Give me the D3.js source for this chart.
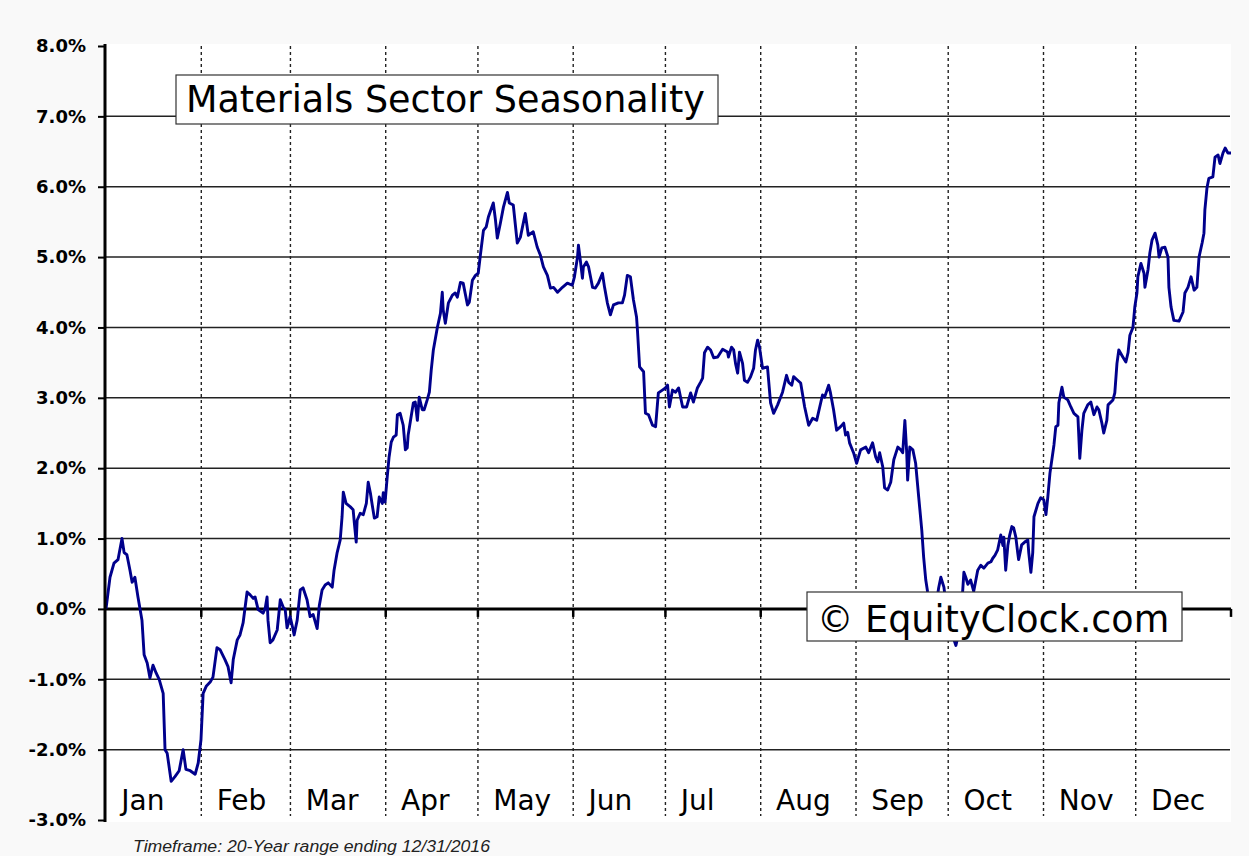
<!DOCTYPE html>
<html>
<head>
<meta charset="utf-8">
<script src="https://cdn.jsdelivr.net/npm/d3@7"></script>
<style>
    body { margin: 0; background: #f9f9f9; }
    #chartDiv { width: 1249px; height: 856px; }
</style>
</head>
<body>
<div id="chartDiv"></div>
<script>
"use strict";

// chart data: day of a (leap) year, cumulative seasonal return in percent
var seasonal = [
    [0,0.00],[1.3,0.45],[2.6,0.65],[3.9,0.70],[5.2,1.00],[5.9,0.80],[6.8,0.77],[7.8,0.55],[8.5,0.38],[9.4,0.45],
    [10.4,0.17],[11.7,-0.16],[12.4,-0.65],[13.4,-0.77],[14.3,-0.98],[15.3,-0.80],[16.3,-0.91],[17.3,-1.00],[18.6,-1.20],
    [19.2,-2.00],[19.9,-2.05],[21.2,-2.45],[22.5,-2.38],[23.8,-2.30],[25.1,-2.00],[26.0,-2.28],[27.4,-2.30],[29.0,-2.35],
    [30.0,-2.19],[30.9,-1.86],[31.6,-1.20],[32.6,-1.10],[33.9,-1.04],[34.8,-0.97],[36.1,-0.55],[37.1,-0.58],[38.7,-0.72],
    [39.7,-0.82],[40.7,-1.05],[41.4,-0.72],[42.7,-0.44],[43.6,-0.37],[44.6,-0.20],[45.9,0.24],[46.9,0.20],[47.9,0.15],
    [48.5,0.17],[49.5,-0.01],[51.1,-0.06],[51.8,0.01],[52.4,0.17],[52.7,-0.16],[53.4,-0.48],[54.3,-0.44],[55.7,-0.30],
    [56.7,0.13],[57.6,0.03],[58.3,-0.01],[58.9,-0.27],[59.9,-0.11],[60.9,-0.30],[61.2,-0.37],[62.2,-0.16],[63.2,0.27],
    [64.1,0.30],[65.4,0.13],[66.4,-0.11],[67.4,-0.08],[68.7,-0.28],[69.4,0.05],[70.3,0.27],[71.3,0.34],[72.3,0.37],
    [73.6,0.31],[74.2,0.55],[75.2,0.80],[76.2,0.98],[76.8,1.31],[77.2,1.66],[78.1,1.50],[79.5,1.45],[80.4,1.41],
    [80.8,1.22],[81.4,0.95],[81.7,1.26],[82.7,1.36],[83.7,1.34],[84.7,1.50],[85.3,1.80],[86.0,1.65],[86.6,1.48],
    [87.3,1.29],[88.2,1.31],[88.9,1.59],[89.9,1.50],[90.2,1.65],[90.8,1.52],[91.5,1.88],[92.1,2.16],[92.8,2.37],
    [93.5,2.44],[94.4,2.47],[94.8,2.76],[95.7,2.78],[96.7,2.61],[97.4,2.26],[98.0,2.29],[98.3,2.47],[99.0,2.66],
    [100.0,2.93],[100.6,2.94],[101.3,2.68],[101.9,3.01],[102.9,2.83],[103.5,2.83],[104.5,2.97],[105.2,3.08],[105.8,3.39],
    [106.5,3.68],[107.8,4.00],[108.8,4.20],[109.4,4.50],[109.7,4.25],[110.4,4.06],[111.4,4.35],[112.7,4.46],[113.6,4.49],
    [114.3,4.43],[115.3,4.64],[116.2,4.63],[117.6,4.32],[118.2,4.36],[119.2,4.67],[120.2,4.74],[121.1,4.77],[121.8,5.03],
    [122.8,5.38],[123.7,5.43],[124.4,5.57],[126.0,5.77],[126.7,5.53],[127.3,5.27],[128.3,5.48],[129.3,5.71],[130.6,5.92],
    [131.2,5.77],[132.5,5.74],[133.8,5.20],[134.8,5.28],[136.4,5.62],[137.4,5.31],[139.0,5.36],[140.3,5.14],[141.3,5.03],
    [142.3,4.86],[143.6,4.74],[144.6,4.56],[145.6,4.57],[146.9,4.50],[148.5,4.57],[150.1,4.63],[151.7,4.60],[152.4,4.72],
    [153.4,5.00],[153.7,5.17],[154.3,4.96],[155.0,4.70],[155.3,4.86],[156.3,4.93],[157.0,4.86],[158.3,4.57],[159.2,4.56],
    [160.2,4.63],[161.5,4.77],[162.2,4.57],[163.1,4.35],[164.1,4.18],[165.1,4.32],[166.7,4.35],[168.0,4.35],[168.7,4.46],
    [169.6,4.74],[170.6,4.72],[171.6,4.39],[172.6,4.15],[172.9,3.96],[173.6,3.44],[174.9,3.37],[175.5,2.78],[176.5,2.76],
    [177.8,2.61],[178.8,2.59],[179.7,3.07],[181.0,3.11],[182.0,3.14],[182.7,3.18],[183.3,2.87],[184.3,3.11],[185.3,3.08],
    [186.3,3.14],[187.6,2.87],[188.9,2.87],[190.2,3.07],[191.1,2.94],[192.4,3.14],[193.4,3.22],[194.1,3.28],[194.7,3.64],
    [195.7,3.72],[196.7,3.68],[197.7,3.57],[199.0,3.58],[200.6,3.69],[202.2,3.65],[202.5,3.58],[203.5,3.72],[204.2,3.68],
    [204.8,3.49],[205.5,3.35],[206.1,3.65],[207.1,3.49],[207.7,3.25],[208.7,3.22],[209.7,3.30],[210.7,3.42],[211.3,3.68],
    [212.0,3.82],[212.6,3.72],[213.6,3.42],[215.2,3.44],[216.2,2.93],[217.2,2.78],[218.5,2.90],[220.1,3.08],[221.4,3.32],
    [222.1,3.22],[223.1,3.18],[223.7,3.30],[225.0,3.25],[226.0,3.21],[227.3,2.87],[228.6,2.61],[229.9,2.71],[231.2,2.68],
    [232.2,2.87],[233.1,3.04],[233.8,3.01],[235.1,3.18],[235.7,3.07],[236.7,2.83],[237.7,2.54],[239.0,2.59],[240.0,2.64],
    [240.6,2.47],[241.3,2.51],[241.9,2.36],[243.2,2.22],[244.2,2.07],[245.5,2.26],[247.2,2.30],[248.1,2.22],[249.4,2.36],
    [250.4,2.16],[251.1,2.09],[251.7,2.22],[252.7,2.02],[253.3,1.72],[254.3,1.69],[255.3,1.80],[256.3,2.12],[257.6,2.30],
    [258.6,2.26],[259.2,2.22],[259.9,2.68],[260.5,2.22],[260.8,1.83],[261.5,2.30],[262.5,2.26],[263.4,2.07],[264.4,1.59],
    [265.4,1.12],[266.0,0.74],[266.7,0.41],[267.3,0.24],[268.0,0.10],[270.0,0.05],[270.9,0.30],[271.6,0.45],[272.6,0.31],
    [273.2,0.10],[274.2,-0.15],[275.2,-0.35],[276.5,-0.52],[277.4,-0.35],[278.4,0.05],[279.1,0.52],[279.7,0.45],[280.4,0.35],
    [281.3,0.41],[282.3,0.25],[283.6,0.55],[284.6,0.62],[285.6,0.58],[286.9,0.65],[287.9,0.67],[288.5,0.72],[289.2,0.76],
    [290.1,0.84],[291.1,1.05],[291.8,0.90],[292.1,1.02],[292.7,0.55],[293.4,0.90],[294.0,1.05],[294.7,1.17],[295.3,1.15],
    [296.0,1.02],[296.6,0.80],[296.9,0.70],[297.9,0.91],[298.9,0.95],[299.9,0.98],[300.2,0.80],[300.9,0.52],[301.5,0.80],
    [301.9,1.31],[303.2,1.50],[304.1,1.58],[305.1,1.55],[305.8,1.34],[306.4,1.59],[307.1,1.93],[308.4,2.33],[309.0,2.59],
    [309.7,2.61],[310.0,2.93],[311.0,3.15],[311.6,3.01],[312.9,2.97],[313.9,2.87],[314.9,2.78],[316.2,2.73],[316.5,2.44],
    [316.8,2.14],[317.5,2.54],[318.1,2.78],[319.4,2.90],[320.4,2.94],[321.4,2.76],[322.4,2.87],[323.0,2.83],[324.0,2.64],
    [324.6,2.50],[325.6,2.68],[326.0,2.90],[327.6,2.97],[328.2,3.07],[328.9,3.49],[329.5,3.68],[330.8,3.58],[331.8,3.51],
    [332.5,3.64],[333.1,3.89],[334.1,4.00],[334.7,4.29],[335.4,4.49],[335.7,4.72],[336.7,4.91],[337.7,4.77],[338.0,4.57],
    [339.0,4.82],[339.6,5.06],[340.3,5.24],[341.3,5.34],[342.2,5.17],[342.6,5.00],[343.5,5.13],[344.5,5.14],[345.5,5.00],
    [345.8,4.57],[346.5,4.29],[347.4,4.10],[349.1,4.09],[350.4,4.22],[351.0,4.49],[352.0,4.57],[353.0,4.72],[354.0,4.53],
    [354.9,4.57],[355.6,5.00],[356.6,5.20],[357.2,5.34],[357.5,5.67],[358.2,5.99],[358.8,6.12],[360.1,6.14],[360.8,6.42],
    [361.8,6.45],[362.4,6.33],[363.4,6.48],[364.1,6.55],[365.0,6.48],[366.0,6.48]
];

// month labels and the day each month starts on
var months = ["Jan", "Feb", "Mar", "Apr", "May", "Jun", "Jul", "Aug", "Sep", "Oct", "Nov", "Dec"];
var monthStarts = [0, 31, 60, 91, 121, 152, 182, 213, 244, 274, 305, 335];

// y axis ticks in percent
var yTicks = [-3, -2, -1, 0, 1, 2, 3, 4, 5, 6, 7, 8];

var chartTitle = "Materials Sector Seasonality";
var watermark = "\u00A9 EquityClock.com";
var footnote = "Timeframe: 20-Year range ending 12/31/2016";

// svg element parameters
var svgWidth = 1249;
var svgHeight = 856;
var plotLeft = 106, plotRight = 1231, plotTop = 46, plotBottom = 820;

var svg, x, y, line;

svg = d3.select("#chartDiv").append("svg").attr("width", svgWidth).attr("height", svgHeight);

// scales
x = d3.scaleLinear().domain([0, 366]).range([plotLeft, plotRight]);
y = d3.scaleLinear().domain([-3, 8]).range([plotBottom, plotTop]);

// white plot area
svg.append("rect")
    .attr("x", plotLeft).attr("y", plotTop - 2)
    .attr("width", plotRight - plotLeft).attr("height", plotBottom - plotTop + 4)
    .attr("fill", "#ffffff");

// horizontal gridlines
svg.append("g").attr("class", "grid")
    .selectAll("line")
    .data(yTicks.filter(function (d) { return d !== 0 && d !== 8 && d !== -3; }))
    .enter()
    .append("line")
    .attr("x1", plotLeft).attr("x2", plotRight - 1)
    .attr("y1", function (d) { return y(d); })
    .attr("y2", function (d) { return y(d); })
    .attr("stroke", "#222")
    .attr("stroke-width", 1.5);

// month dividers, dashed
svg.append("g").attr("class", "months")
    .selectAll("line")
    .data(monthStarts.slice(1))
    .enter()
    .append("line")
    .attr("x1", function (d) { return x(d); })
    .attr("x2", function (d) { return x(d); })
    .attr("y1", plotTop).attr("y2", plotBottom - 4)
    .attr("stroke", "#222")
    .attr("stroke-width", 1.4)
    .attr("stroke-dasharray", "3,3");

// zero line with small month ticks
svg.append("line")
    .attr("x1", plotLeft).attr("x2", plotRight)
    .attr("y1", y(0)).attr("y2", y(0))
    .attr("stroke", "#000").attr("stroke-width", 3);

svg.append("g")
    .selectAll("line")
    .data(monthStarts.slice(1).concat([366]))
    .enter()
    .append("line")
    .attr("x1", function (d) { return x(d); })
    .attr("x2", function (d) { return x(d); })
    .attr("y1", y(0)).attr("y2", y(0) + 8)
    .attr("stroke", "#000").attr("stroke-width", 2.5);

// seasonal line
line = d3.line()
    .x(function (d) { return x(d[0]); })
    .y(function (d) { return y(d[1]); });

svg.append("path")
    .datum(seasonal)
    .attr("d", line)
    .attr("fill", "none")
    .attr("stroke", "#00008c")
    .attr("stroke-width", 2.9)
    .attr("stroke-linejoin", "round");

// left axis, plain hyphen for negatives like the original
var yAxis = d3.axisLeft(y)
    .tickValues(yTicks)
    .tickSize(7)
    .tickSizeOuter(0)
    .tickPadding(12)
    .tickFormat(function (d) { return d.toFixed(1) + "%"; });

var axisG = svg.append("g")
    .attr("transform", "translate(" + (plotLeft - 1) + ",0)")
    .call(yAxis);

axisG.select(".domain").attr("stroke", "#000").attr("stroke-width", 3)
    .attr("d", "M0," + (plotTop - 2) + "V" + (plotBottom + 2));
axisG.selectAll(".tick line").attr("stroke", "#000").attr("stroke-width", 2);
axisG.selectAll(".tick text")
    .attr("fill", "#000")
    .style("font-family", "'DejaVu Sans', sans-serif")
    .style("font-weight", "bold")
    .style("font-size", "18px");

// month labels
svg.append("g")
    .selectAll("text")
    .data(months)
    .enter()
    .append("text")
    .attr("x", function (d, i) { return x(monthStarts[i] + 5); })
    .attr("y", 810)
    .attr("font-family", "'DejaVu Sans', sans-serif")
    .attr("font-size", "28px")
    .attr("fill", "#000")
    .text(function (d) { return d; });

// title box
svg.append("rect")
    .attr("x", 176).attr("y", 75).attr("width", 542).attr("height", 49)
    .attr("fill", "#fff").attr("stroke", "#333").attr("stroke-width", 1.2);
svg.append("text")
    .attr("x", 186).attr("y", 112)
    .attr("font-family", "'DejaVu Sans', sans-serif")
    .attr("font-size", "36.5px")
    .attr("fill", "#000")
    .text(chartTitle);

// watermark box
svg.append("rect")
    .attr("x", 807).attr("y", 592).attr("width", 375).attr("height", 49)
    .attr("fill", "#fff").attr("stroke", "#333").attr("stroke-width", 1.2);
svg.append("text")
    .attr("x", 817).attr("y", 632)
    .attr("font-family", "'DejaVu Sans', sans-serif")
    .attr("font-size", "36.5px")
    .attr("fill", "#000")
    .text(watermark);

// footnote
svg.append("text")
    .attr("x", 133).attr("y", 852)
    .attr("font-family", "'Liberation Sans', Arial, sans-serif")
    .attr("font-style", "italic")
    .attr("font-size", "16px")
    .attr("fill", "#222")
    .attr("textLength", 357)
    .attr("lengthAdjust", "spacingAndGlyphs")
    .text(footnote);
</script>
</body>
</html>
